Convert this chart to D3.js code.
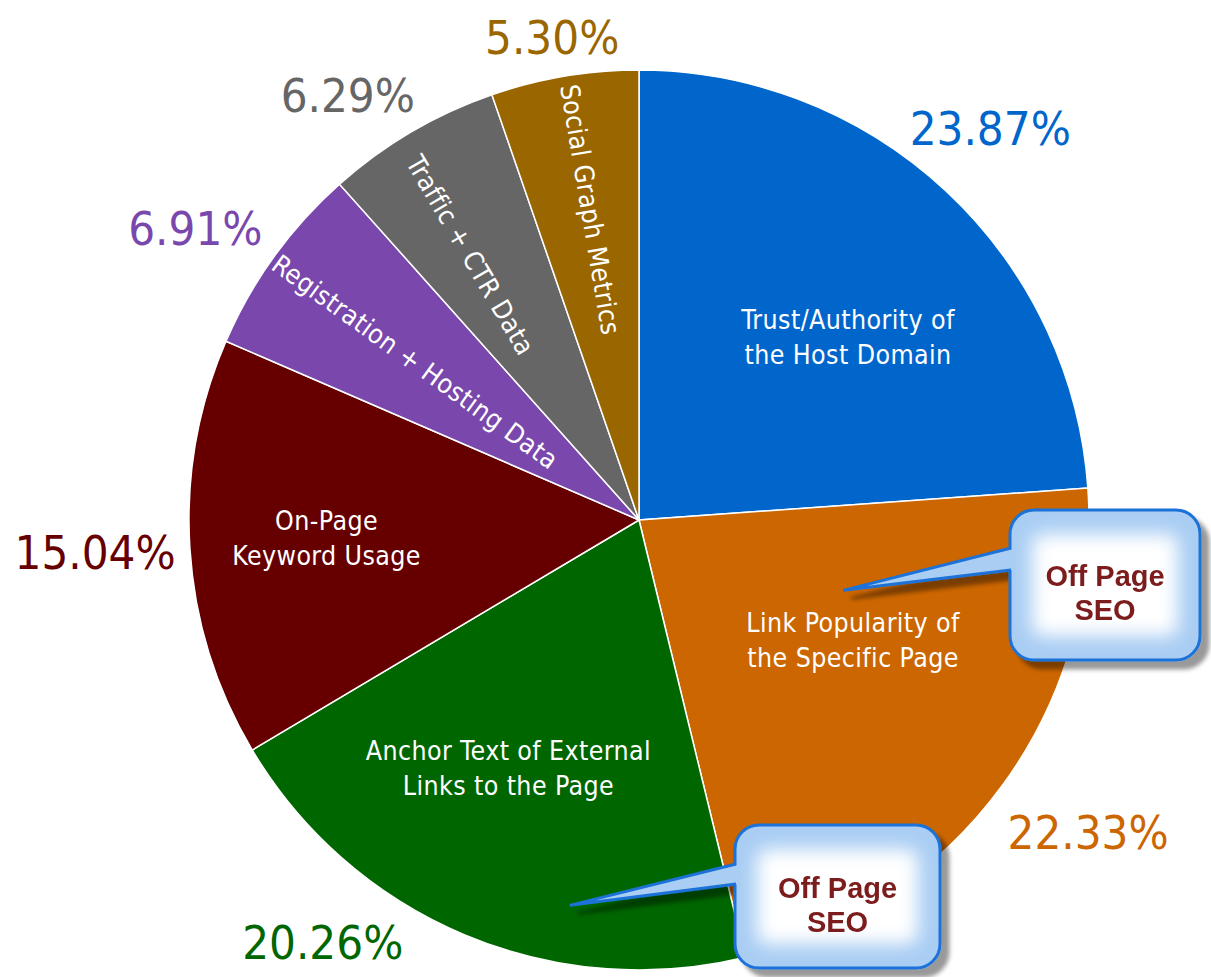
<!DOCTYPE html>
<html>
<head>
<meta charset="utf-8">
<script src="https://cdn.jsdelivr.net/npm/d3@7"></script>
<style>
  html, body { margin: 0; padding: 0; background: #ffffff; }
  svg { display: block; }
</style>
</head>
<body>
<svg id="chart" width="1211" height="977"></svg>
<script>
// ---------------- DATA ----------------
const categories = [
  "Trust/Authority of the Host Domain",
  "Link Popularity of the Specific Page",
  "Anchor Text of External Links to the Page",
  "On-Page Keyword Usage",
  "Registration + Hosting Data",
  "Traffic + CTR Data",
  "Social Graph Metrics"
];
const values = [23.87, 22.33, 20.26, 15.04, 6.91, 6.29, 5.30];
const labelLines = [
  ["Trust/Authority of", "the Host Domain"],
  ["Link Popularity of", "the Specific Page"],
  ["Anchor Text of External", "Links to the Page"],
  ["On-Page", "Keyword Usage"],
  ["Registration + Hosting Data"],
  ["Traffic + CTR Data"],
  ["Social Graph Metrics"]
];
const colors = ["#0066cc", "#cc6600", "#006600", "#660000", "#7a47ad", "#666666", "#996600"];
const calloutText = ["Off Page", "SEO"];
const calloutTargets = [1, 2]; // slice indices the callouts point at

// ---------------- LAYOUT ----------------
const W = 1211, H = 977;
const cx = 639, cy = 520, R = 450;
const innerLabelR = 270, pctLabelR = 530;
const innerNudge = [[25,15],[-4,-39],[-26,-1],[-43,1],[-5,0],[-32,-32],[-4,-44]];
const pctNudge = [[-10,-4],[21,0],[-111,-67],[-15,-2],[-14,18],[-23,32],[1,40]];
// callout boxes + where inside the target slice the tail points (angle fraction, radius fraction)
const calloutLayout = [
  {x: 1010, y: 510, w: 190, h: 150, tailY: [548, 570], at: [0.287, 0.48]},
  {x: 735,  y: 825, w: 205, h: 143, tailY: [864, 884], at: [0.327, 0.87]}
];

const svg = d3.select("#chart");
const defs = svg.append("defs");

const shadow = defs.append("filter").attr("id", "shadow")
  .attr("x", "-20%").attr("y", "-20%").attr("width", "150%").attr("height", "150%");
shadow.append("feDropShadow").attr("dx", 8).attr("dy", 8)
  .attr("stdDeviation", 2).attr("flood-color", "#000").attr("flood-opacity", 0.4);

const glow = defs.append("filter").attr("id", "glow")
  .attr("x", "-30%").attr("y", "-30%").attr("width", "160%").attr("height", "160%");
glow.append("feGaussianBlur").attr("stdDeviation", 9);

const g = svg.append("g").attr("transform", `translate(${cx},${cy})`);

const pie = d3.pie().sort(null).value(d => d);
const arcs = pie(values);
const arc = d3.arc().innerRadius(0).outerRadius(R);

g.selectAll("path.slice")
  .data(arcs)
  .join("path")
  .attr("class", "slice")
  .attr("d", arc)
  .attr("fill", (d, i) => colors[i])
  .attr("stroke", "#ffffff")
  .attr("stroke-width", 1.5);

const fontFam = "'DejaVu Sans Condensed', 'DejaVu Sans', sans-serif";
const mid = d => (d.startAngle + d.endAngle) / 2;
const polar = (a, r) => [r * Math.sin(a), -r * Math.cos(a)];

// inner labels
arcs.forEach((d, i) => {
  const a = mid(d);
  const [px, py] = polar(a, innerLabelR);
  const x = px + innerNudge[i][0], y = py + innerNudge[i][1];
  const rotated = values[i] < 10;
  const rot = rotated ? (a * 180 / Math.PI - 270) : 0;
  const t = g.append("text")
    .attr("transform", `translate(${x},${y}) rotate(${rot})`)
    .attr("text-anchor", "middle")
    .attr("fill", "#ffffff")
    .attr("font-family", fontFam)
    .attr("font-size", 26.5)
    .attr("letter-spacing", 0.4);
  const lines = labelLines[i];
  const lh = 35;
  lines.forEach((ln, k) => {
    t.append("tspan")
      .attr("x", 0)
      .attr("y", (k - (lines.length - 1) / 2) * lh)
      .attr("dy", "0.35em")
      .text(ln);
  });
});

// percentage labels
const fmt = d3.format(".2f");
arcs.forEach((d, i) => {
  const [px, py] = polar(mid(d), pctLabelR);
  g.append("text")
    .attr("x", px + pctNudge[i][0])
    .attr("y", py + pctNudge[i][1])
    .attr("dy", "0.36em")
    .attr("text-anchor", "middle")
    .attr("fill", colors[i])
    .attr("font-family", fontFam)
    .attr("font-size", 47)
    .text(fmt(values[i]) + "%");
});

// callouts
calloutLayout.forEach((c, k) => {
  const d = arcs[calloutTargets[k]];
  const a = d.startAngle + (d.endAngle - d.startAngle) * c.at[0];
  const [tx, ty] = polar(a, R * c.at[1]);
  const tipX = cx + tx, tipY = cy + ty;

  const cg = svg.append("g").attr("filter", "url(#shadow)");
  cg.append("rect")
    .attr("x", c.x).attr("y", c.y).attr("width", c.w).attr("height", c.h)
    .attr("rx", 24).attr("ry", 24)
    .attr("fill", "#a9cdf3")
    .attr("stroke", "#1a72d8").attr("stroke-width", 3);
  cg.append("rect")
    .attr("x", c.x + 22).attr("y", c.y + 24).attr("width", c.w - 44).attr("height", c.h - 48)
    .attr("rx", 10)
    .attr("fill", "#ffffff")
    .attr("filter", "url(#glow)");
  cg.append("path")
    .attr("d", `M${c.x + 6},${c.tailY[0]} L${tipX},${tipY} L${c.x + 6},${c.tailY[1]} Z`)
    .attr("fill", "#a9cdf3")
    .attr("stroke", "none");
  cg.append("path")
    .attr("d", `M${c.x + 1},${c.tailY[0]} L${tipX},${tipY} L${c.x + 1},${c.tailY[1]}`)
    .attr("fill", "none")
    .attr("stroke", "#1a72d8").attr("stroke-width", 3).attr("stroke-linejoin", "miter");

  const t = cg.append("text")
    .attr("text-anchor", "middle")
    .attr("fill", "#7b1c1c")
    .attr("font-family", "'Liberation Sans', Arial, sans-serif")
    .attr("font-weight", "bold")
    .attr("font-size", 29);
  calloutText.forEach((ln, j) => {
    t.append("tspan")
      .attr("x", c.x + c.w / 2)
      .attr("y", c.y + c.h / 2 + 8 + (j - 0.5) * 34)
      .attr("dy", "0.35em")
      .text(ln);
  });
});
</script>
</body>
</html>
